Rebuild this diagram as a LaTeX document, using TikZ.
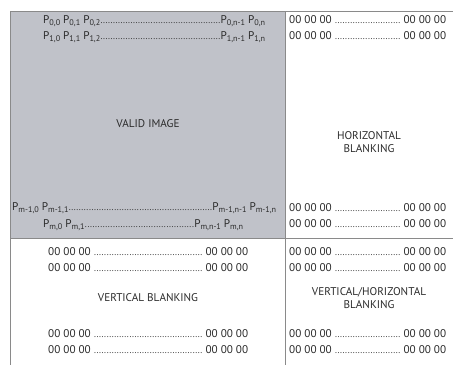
\documentclass[tikz,border=0pt]{standalone}
\usepackage{fontspec}
\setmainfont{PT Sans}
\definecolor{txt}{HTML}{2B2B2B}
\definecolor{gridc}{HTML}{8A8A8A}
\definecolor{valid}{HTML}{C0C2C9}
\newcommand{\dotrun}{\xleaders\hbox to 2.5pt{\hss\fontsize{9}{10}\selectfont.\hss}\hfill}
\newcommand{\sbs}[1]{\raisebox{-2.4pt}{\fontsize{8.2}{9}\selectfont #1}}
\begin{document}
\begin{tikzpicture}[x=1pt,y=-1pt,
  txtstyle/.style={font=\fontsize{11.2}{12.5}\selectfont, text=txt, inner sep=0pt},
  row/.style={txtstyle, anchor=west},
  lbl/.style={txtstyle, align=center}]
\useasboundingbox (0,0) rectangle (453,365);
\fill[valid] (10,11) rectangle (285,238);
\draw[gridc, line width=0.9pt] (453,11) -- (10,11) -- (10,365);
\draw[gridc, line width=0.9pt] (285,11) -- (285,365);
\draw[gridc, line width=0.9pt] (10,238) -- (453,238);
% valid image
\node[row] (p0) at (43,21) {\makebox[222pt][l]{P\sbs{0,0} P\sbs{0,1} P\sbs{0,2}\dotrun P\sbs{0,n-1} P\sbs{0,n}}};
\node[row] (p1) at (43,37) {\makebox[222pt][l]{P\sbs{1,0} P\sbs{1,1} P\sbs{1,2}\dotrun P\sbs{1,n-1} P\sbs{1,n}}};
\node[lbl] (vi) at (148,124) {VALID IMAGE};
\node[row] (pm1) at (12,208) {\makebox[264pt][l]{P\sbs{m-1,0} P\sbs{m-1,1}\dotrun P\sbs{m-1,n-1} P\sbs{m-1,n}}};
\node[row] (pm) at (43,225) {\makebox[200pt][l]{P\sbs{m,0} P\sbs{m,1}\dotrun P\sbs{m,n-1} P\sbs{m,n}}};
% horizontal blanking
\node[row] (h1) at (289,20) {\makebox[157pt][l]{00 00 00 \dotrun{} 00 00 00}};
\node[row] (h2) at (289,36) {\makebox[157pt][l]{00 00 00 \dotrun{} 00 00 00}};
\node[lbl] (hb) at (369,142) {HORIZONTAL\\[1pt]BLANKING};
\node[row] (h3) at (289,208) {\makebox[157pt][l]{00 00 00 \dotrun{} 00 00 00}};
\node[row] (h4) at (289,224) {\makebox[157pt][l]{00 00 00 \dotrun{} 00 00 00}};
% vertical blanking
\node[row] (v1) at (48,252) {\makebox[200pt][l]{00 00 00 \dotrun{} 00 00 00}};
\node[row] (v2) at (48,268) {\makebox[200pt][l]{00 00 00 \dotrun{} 00 00 00}};
\node[lbl] (vb) at (148,298) {VERTICAL BLANKING};
\node[row] (v3) at (48,334) {\makebox[200pt][l]{00 00 00 \dotrun{} 00 00 00}};
\node[row] (v4) at (48,350) {\makebox[200pt][l]{00 00 00 \dotrun{} 00 00 00}};
% vertical/horizontal blanking
\node[row] (c1) at (289,252) {\makebox[157pt][l]{00 00 00 \dotrun{} 00 00 00}};
\node[row] (c2) at (289,268) {\makebox[157pt][l]{00 00 00 \dotrun{} 00 00 00}};
\node[lbl] (cb) at (369,298) {VERTICAL/HORIZONTAL\\[1pt]BLANKING};
\node[row] (c3) at (289,334) {\makebox[157pt][l]{00 00 00 \dotrun{} 00 00 00}};
\node[row] (c4) at (289,350) {\makebox[157pt][l]{00 00 00 \dotrun{} 00 00 00}};
\end{tikzpicture}
\end{document}
